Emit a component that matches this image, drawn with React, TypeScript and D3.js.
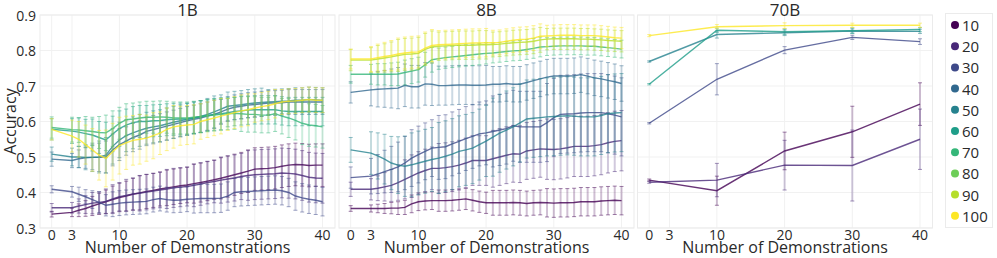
import React, { useRef, useEffect } from 'react'
import * as d3 from 'd3'

// categories / ticks
const levels = [10, 20, 30, 40, 50, 60, 70, 80, 90, 100]
const xTicks = [0, 3, 10, 20, 30, 40]
const yTicks = [0.3, 0.4, 0.5, 0.6, 0.7, 0.8, 0.9]
const shots = [0, 3, 4, 5, 6, 7, 8, 9, 10, 11, 12, 13, 14, 15, 16, 17, 18, 19, 20, 21, 22, 23, 24, 25, 26, 27, 28, 29, 30, 31, 32, 33, 34, 35, 36, 37, 38, 39, 40]
const shots70B = [0, 10, 20, 30, 40]

// ---- 1B ----
const acc1B_10 = [0.339, 0.344, 0.35, 0.355, 0.362, 0.368, 0.374, 0.38, 0.386, 0.39, 0.395, 0.399, 0.403, 0.406, 0.41, 0.413, 0.416, 0.419, 0.421, 0.425, 0.428, 0.432, 0.436, 0.44, 0.445, 0.45, 0.455, 0.46, 0.466, 0.467, 0.468, 0.47, 0.474, 0.477, 0.479, 0.478, 0.476, 0.477, 0.477]
const err1B_10 = [0.008, 0.012, 0.018, 0.022, 0.027, 0.03, 0.033, 0.038, 0.04, 0.042, 0.045, 0.048, 0.048, 0.048, 0.048, 0.05, 0.05, 0.05, 0.05, 0.055, 0.055, 0.055, 0.055, 0.058, 0.058, 0.058, 0.058, 0.06, 0.06, 0.06, 0.06, 0.06, 0.06, 0.06, 0.06, 0.06, 0.06, 0.06, 0.06]
const acc1B_20 = [0.357, 0.357, 0.362, 0.366, 0.37, 0.372, 0.375, 0.382, 0.388, 0.392, 0.396, 0.398, 0.401, 0.404, 0.407, 0.41, 0.413, 0.415, 0.417, 0.42, 0.424, 0.428, 0.431, 0.435, 0.438, 0.441, 0.445, 0.448, 0.45, 0.451, 0.452, 0.453, 0.455, 0.454, 0.452, 0.448, 0.443, 0.441, 0.44]
const err1B_20 = [0.012, 0.015, 0.02, 0.025, 0.03, 0.03, 0.035, 0.04, 0.04, 0.045, 0.045, 0.05, 0.05, 0.05, 0.05, 0.055, 0.055, 0.055, 0.055, 0.06, 0.06, 0.06, 0.06, 0.065, 0.065, 0.065, 0.065, 0.07, 0.07, 0.07, 0.07, 0.07, 0.07, 0.07, 0.07, 0.07, 0.07, 0.07, 0.07]
const acc1B_30 = [0.409, 0.402, 0.395, 0.388, 0.38, 0.372, 0.364, 0.367, 0.37, 0.372, 0.373, 0.374, 0.375, 0.38, 0.383, 0.38, 0.378, 0.379, 0.381, 0.382, 0.383, 0.383, 0.383, 0.384, 0.39, 0.4, 0.402, 0.403, 0.404, 0.405, 0.406, 0.407, 0.405, 0.4, 0.39, 0.385, 0.381, 0.378, 0.374]
const err1B_30 = [0.01, 0.015, 0.02, 0.02, 0.025, 0.03, 0.03, 0.035, 0.035, 0.035, 0.035, 0.035, 0.035, 0.035, 0.035, 0.035, 0.035, 0.035, 0.035, 0.04, 0.04, 0.04, 0.04, 0.04, 0.04, 0.04, 0.04, 0.04, 0.04, 0.04, 0.04, 0.04, 0.04, 0.04, 0.04, 0.04, 0.04, 0.04, 0.04]
const acc1B_40 = [0.494, 0.49, 0.495, 0.498, 0.499, 0.499, 0.5, 0.52, 0.535, 0.545, 0.555, 0.562, 0.572, 0.577, 0.582, 0.587, 0.592, 0.597, 0.602, 0.606, 0.61, 0.615, 0.62, 0.627, 0.635, 0.64, 0.643, 0.646, 0.648, 0.65, 0.652, 0.652, 0.653, 0.655, 0.655, 0.655, 0.655, 0.655, 0.655]
const err1B_40 = [0.02, 0.02, 0.025, 0.03, 0.035, 0.04, 0.045, 0.045, 0.045, 0.04, 0.04, 0.04, 0.04, 0.04, 0.04, 0.04, 0.04, 0.04, 0.04, 0.04, 0.04, 0.04, 0.04, 0.035, 0.035, 0.035, 0.035, 0.035, 0.035, 0.035, 0.035, 0.035, 0.035, 0.035, 0.035, 0.035, 0.035, 0.035, 0.035]
const acc1B_50 = [0.508, 0.5, 0.5, 0.499, 0.499, 0.5, 0.505, 0.53, 0.548, 0.56, 0.568, 0.575, 0.581, 0.585, 0.588, 0.593, 0.598, 0.602, 0.606, 0.61, 0.614, 0.62, 0.627, 0.635, 0.643, 0.645, 0.647, 0.65, 0.652, 0.654, 0.655, 0.656, 0.657, 0.658, 0.66, 0.66, 0.662, 0.661, 0.66]
const err1B_50 = [0.02, 0.025, 0.03, 0.035, 0.04, 0.045, 0.05, 0.05, 0.05, 0.045, 0.045, 0.045, 0.045, 0.045, 0.045, 0.045, 0.045, 0.045, 0.045, 0.045, 0.045, 0.045, 0.045, 0.04, 0.04, 0.04, 0.04, 0.04, 0.04, 0.04, 0.035, 0.035, 0.035, 0.035, 0.035, 0.035, 0.035, 0.035, 0.035]
const acc1B_60 = [0.578, 0.573, 0.57, 0.566, 0.562, 0.555, 0.548, 0.565, 0.58, 0.59, 0.597, 0.6, 0.6, 0.602, 0.603, 0.605, 0.606, 0.607, 0.607, 0.61, 0.613, 0.617, 0.62, 0.622, 0.625, 0.628, 0.63, 0.632, 0.633, 0.633, 0.633, 0.633, 0.63, 0.628, 0.628, 0.628, 0.628, 0.628, 0.628]
const err1B_60 = [0.03, 0.035, 0.04, 0.04, 0.045, 0.045, 0.05, 0.05, 0.05, 0.045, 0.045, 0.045, 0.045, 0.045, 0.045, 0.045, 0.045, 0.045, 0.045, 0.045, 0.045, 0.045, 0.045, 0.045, 0.04, 0.04, 0.04, 0.04, 0.04, 0.04, 0.04, 0.04, 0.04, 0.04, 0.04, 0.04, 0.04, 0.04, 0.04]
const acc1B_70 = [0.583, 0.577, 0.576, 0.574, 0.572, 0.569, 0.568, 0.58, 0.595, 0.605, 0.607, 0.61, 0.612, 0.612, 0.613, 0.612, 0.61, 0.61, 0.61, 0.612, 0.614, 0.616, 0.618, 0.62, 0.622, 0.623, 0.622, 0.62, 0.62, 0.618, 0.618, 0.622, 0.615, 0.61, 0.603, 0.595, 0.59, 0.588, 0.585]
const err1B_70 = [0.03, 0.035, 0.035, 0.04, 0.04, 0.045, 0.05, 0.05, 0.045, 0.045, 0.045, 0.045, 0.045, 0.045, 0.045, 0.045, 0.045, 0.045, 0.045, 0.045, 0.045, 0.045, 0.045, 0.045, 0.045, 0.045, 0.05, 0.05, 0.05, 0.05, 0.05, 0.05, 0.05, 0.055, 0.055, 0.06, 0.06, 0.06, 0.06]
const acc1B_100 = [0.578, 0.559, 0.55, 0.535, 0.52, 0.505, 0.496, 0.515, 0.532, 0.54, 0.547, 0.55, 0.553, 0.56, 0.567, 0.578, 0.585, 0.588, 0.59, 0.592, 0.6, 0.605, 0.61, 0.615, 0.62, 0.625, 0.63, 0.633, 0.638, 0.642, 0.645, 0.65, 0.655, 0.657, 0.658, 0.66, 0.662, 0.66, 0.66]
const err1B_100 = [0.03, 0.045, 0.05, 0.055, 0.06, 0.07, 0.08, 0.08, 0.08, 0.075, 0.07, 0.07, 0.065, 0.065, 0.06, 0.06, 0.06, 0.055, 0.055, 0.055, 0.05, 0.05, 0.05, 0.05, 0.045, 0.045, 0.045, 0.045, 0.04, 0.04, 0.04, 0.04, 0.035, 0.035, 0.035, 0.035, 0.035, 0.035, 0.035]

// ---- 8B ----
const acc8B_10 = [0.355, 0.355, 0.355, 0.355, 0.356, 0.356, 0.358, 0.368, 0.374, 0.376, 0.377, 0.377, 0.377, 0.378, 0.38, 0.382, 0.378, 0.374, 0.371, 0.371, 0.371, 0.371, 0.372, 0.371, 0.369, 0.371, 0.372, 0.371, 0.37, 0.371, 0.371, 0.372, 0.374, 0.374, 0.374, 0.376, 0.377, 0.378, 0.377]
const err8B_10 = [0.008, 0.01, 0.012, 0.014, 0.016, 0.018, 0.02, 0.025, 0.025, 0.025, 0.025, 0.03, 0.03, 0.03, 0.03, 0.03, 0.03, 0.03, 0.03, 0.035, 0.035, 0.035, 0.035, 0.035, 0.035, 0.035, 0.035, 0.04, 0.04, 0.04, 0.04, 0.04, 0.04, 0.04, 0.04, 0.04, 0.04, 0.04, 0.04]
const acc8B_20 = [0.409, 0.409, 0.412, 0.416, 0.42, 0.428, 0.437, 0.446, 0.455, 0.462, 0.468, 0.468, 0.47, 0.473, 0.477, 0.483, 0.49, 0.49, 0.49, 0.495, 0.5, 0.505, 0.509, 0.508, 0.517, 0.52, 0.523, 0.522, 0.521, 0.523, 0.526, 0.53, 0.53, 0.53, 0.532, 0.535, 0.54, 0.544, 0.546]
const err8B_20 = [0.02, 0.03, 0.035, 0.04, 0.045, 0.05, 0.055, 0.06, 0.06, 0.06, 0.06, 0.07, 0.07, 0.07, 0.07, 0.07, 0.07, 0.07, 0.07, 0.08, 0.08, 0.08, 0.08, 0.08, 0.08, 0.08, 0.08, 0.085, 0.085, 0.085, 0.085, 0.085, 0.085, 0.085, 0.085, 0.085, 0.085, 0.085, 0.085]
const acc8B_30 = [0.442, 0.446, 0.452, 0.459, 0.465, 0.472, 0.483, 0.497, 0.507, 0.516, 0.525, 0.527, 0.529, 0.537, 0.544, 0.552, 0.558, 0.565, 0.568, 0.572, 0.576, 0.58, 0.588, 0.585, 0.585, 0.585, 0.585, 0.597, 0.611, 0.62, 0.621, 0.622, 0.624, 0.625, 0.625, 0.625, 0.622, 0.618, 0.613]
const err8B_30 = [0.03, 0.05, 0.055, 0.06, 0.065, 0.07, 0.075, 0.08, 0.08, 0.08, 0.08, 0.09, 0.09, 0.09, 0.09, 0.09, 0.09, 0.09, 0.09, 0.1, 0.1, 0.1, 0.1, 0.1, 0.1, 0.1, 0.1, 0.11, 0.11, 0.11, 0.11, 0.11, 0.11, 0.11, 0.11, 0.11, 0.11, 0.11, 0.11]
const acc8B_40 = [0.682, 0.689, 0.691, 0.692, 0.693, 0.694, 0.702, 0.698, 0.698, 0.706, 0.705, 0.701, 0.701, 0.702, 0.703, 0.703, 0.702, 0.702, 0.703, 0.705, 0.705, 0.707, 0.705, 0.705, 0.71, 0.715, 0.72, 0.725, 0.728, 0.728, 0.728, 0.729, 0.732, 0.728, 0.723, 0.72, 0.716, 0.712, 0.707]
const err8B_40 = [0.03, 0.045, 0.05, 0.052, 0.055, 0.058, 0.06, 0.06, 0.06, 0.06, 0.06, 0.055, 0.055, 0.055, 0.055, 0.055, 0.055, 0.055, 0.055, 0.05, 0.05, 0.05, 0.05, 0.05, 0.05, 0.05, 0.05, 0.05, 0.05, 0.05, 0.05, 0.05, 0.05, 0.05, 0.05, 0.05, 0.05, 0.05, 0.05]
const acc8B_50 = [0.52, 0.511, 0.503, 0.494, 0.483, 0.477, 0.474, 0.478, 0.483, 0.488, 0.493, 0.497, 0.502, 0.508, 0.516, 0.52, 0.525, 0.535, 0.545, 0.556, 0.567, 0.576, 0.585, 0.596, 0.607, 0.609, 0.611, 0.613, 0.614, 0.615, 0.616, 0.615, 0.613, 0.613, 0.613, 0.617, 0.622, 0.624, 0.625]
const err8B_50 = [0.035, 0.06, 0.065, 0.07, 0.075, 0.08, 0.085, 0.09, 0.09, 0.09, 0.09, 0.1, 0.1, 0.1, 0.1, 0.1, 0.1, 0.1, 0.1, 0.11, 0.11, 0.11, 0.11, 0.11, 0.11, 0.11, 0.11, 0.11, 0.11, 0.11, 0.11, 0.11, 0.11, 0.11, 0.11, 0.11, 0.11, 0.11, 0.11]
const acc8B_70 = [0.733, 0.733, 0.733, 0.733, 0.733, 0.734, 0.738, 0.742, 0.746, 0.76, 0.774, 0.777, 0.78, 0.782, 0.784, 0.786, 0.788, 0.79, 0.792, 0.793, 0.795, 0.797, 0.799, 0.8, 0.803, 0.806, 0.81, 0.811, 0.812, 0.813, 0.813, 0.813, 0.813, 0.812, 0.812, 0.81, 0.808, 0.806, 0.804]
const err8B_70 = [0.025, 0.028, 0.03, 0.03, 0.032, 0.033, 0.035, 0.035, 0.035, 0.035, 0.035, 0.03, 0.03, 0.03, 0.03, 0.03, 0.03, 0.03, 0.03, 0.028, 0.028, 0.028, 0.028, 0.028, 0.028, 0.028, 0.028, 0.025, 0.025, 0.025, 0.025, 0.025, 0.025, 0.025, 0.025, 0.025, 0.025, 0.025, 0.025]
const acc8B_90 = [0.773, 0.773, 0.776, 0.779, 0.782, 0.786, 0.789, 0.79, 0.792, 0.803, 0.81, 0.812, 0.813, 0.814, 0.815, 0.815, 0.815, 0.816, 0.816, 0.817, 0.818, 0.82, 0.822, 0.823, 0.824, 0.826, 0.83, 0.832, 0.833, 0.833, 0.833, 0.833, 0.832, 0.832, 0.831, 0.83, 0.828, 0.827, 0.826]
const err8B_90 = [0.03, 0.035, 0.038, 0.04, 0.042, 0.045, 0.045, 0.045, 0.045, 0.045, 0.045, 0.04, 0.04, 0.04, 0.04, 0.04, 0.04, 0.04, 0.04, 0.035, 0.035, 0.035, 0.035, 0.035, 0.035, 0.035, 0.035, 0.03, 0.03, 0.03, 0.03, 0.03, 0.03, 0.03, 0.03, 0.03, 0.03, 0.03, 0.03]
const acc8B_100 = [0.776, 0.776, 0.78, 0.783, 0.786, 0.79, 0.793, 0.795, 0.796, 0.807, 0.814, 0.816, 0.817, 0.818, 0.819, 0.82, 0.821, 0.821, 0.822, 0.822, 0.823, 0.826, 0.829, 0.831, 0.832, 0.835, 0.84, 0.841, 0.842, 0.843, 0.843, 0.843, 0.842, 0.842, 0.842, 0.84, 0.838, 0.836, 0.835]
const err8B_100 = [0.028, 0.035, 0.038, 0.04, 0.042, 0.045, 0.045, 0.045, 0.045, 0.045, 0.045, 0.04, 0.04, 0.04, 0.04, 0.04, 0.04, 0.04, 0.04, 0.035, 0.035, 0.035, 0.035, 0.035, 0.035, 0.035, 0.035, 0.03, 0.03, 0.03, 0.03, 0.03, 0.03, 0.03, 0.03, 0.03, 0.03, 0.03, 0.03]

// ---- 70B ----
const acc70B_10 = [0.435, 0.405, 0.517, 0.571, 0.649]
const err70B_10 = [0.003, 0.041, 0.053, 0.072, 0.06]
const acc70B_20 = [0.429, 0.435, 0.477, 0.476, 0.55]
const err70B_20 = [0.003, 0.047, 0.07, 0.1, 0.085]
const acc70B_30 = [0.595, 0.719, 0.801, 0.837, 0.825]
const err70B_30 = [0.002, 0.044, 0.01, 0.006, 0.008]
const acc70B_50 = [0.769, 0.845, 0.85, 0.855, 0.854]
const err70B_50 = [0.002, 0.01, 0.008, 0.006, 0.006]
const acc70B_60 = [0.705, 0.857, 0.853, 0.856, 0.859]
const err70B_60 = [0.002, 0.006, 0.008, 0.008, 0.006]
const acc70B_100 = [0.842, 0.867, 0.87, 0.871, 0.871]
const err70B_100 = [0.003, 0.006, 0.008, 0.006, 0.006]

const panels = [
  { title: '1B', xs: shots, series: [
    { level: 10, acc: acc1B_10, err: err1B_10 },
    { level: 20, acc: acc1B_20, err: err1B_20 },
    { level: 30, acc: acc1B_30, err: err1B_30 },
    { level: 40, acc: acc1B_40, err: err1B_40 },
    { level: 50, acc: acc1B_50, err: err1B_50 },
    { level: 60, acc: acc1B_60, err: err1B_60 },
    { level: 70, acc: acc1B_70, err: err1B_70 },
    { level: 100, acc: acc1B_100, err: err1B_100 },
  ] },
  { title: '8B', xs: shots, series: [
    { level: 10, acc: acc8B_10, err: err8B_10 },
    { level: 20, acc: acc8B_20, err: err8B_20 },
    { level: 30, acc: acc8B_30, err: err8B_30 },
    { level: 40, acc: acc8B_40, err: err8B_40 },
    { level: 50, acc: acc8B_50, err: err8B_50 },
    { level: 70, acc: acc8B_70, err: err8B_70 },
    { level: 90, acc: acc8B_90, err: err8B_90 },
    { level: 100, acc: acc8B_100, err: err8B_100 },
  ] },
  { title: '70B', xs: shots70B, series: [
    { level: 10, acc: acc70B_10, err: err70B_10 },
    { level: 20, acc: acc70B_20, err: err70B_20 },
    { level: 30, acc: acc70B_30, err: err70B_30 },
    { level: 50, acc: acc70B_50, err: err70B_50 },
    { level: 60, acc: acc70B_60, err: err70B_60 },
    { level: 100, acc: acc70B_100, err: err70B_100 },
  ] },
]

const W = 997
const H = 258
const FONT = "'Open Sans', sans-serif"
const TXT = '#2a2a2a'
const panelLeft = [40, 339, 637.5]
const panelW = 295
const top = 15
const bottom = 228

const color = (lv: number) => d3.interpolateViridis((lv - 10) / 90)

const App = () => {
  const svgRef = useRef<SVGSVGElement>(null)

  useEffect(() => {
    const svg = d3.select(svgRef.current)
    svg.selectAll('*').remove()

    const y = d3.scaleLinear().domain([0.3, 0.9]).range([bottom, top])

    panels.forEach((p, pi) => {
      const left = panelLeft[pi]
      const x = d3.scaleLinear().domain([0, 40]).range([left + 11.7, left + 282.5])
      const g = svg.append('g')

      // grid + frame
      g.selectAll('line.gy').data(yTicks).enter().append('line')
        .attr('x1', left).attr('x2', left + panelW)
        .attr('y1', d => y(d)).attr('y2', d => y(d))
        .attr('stroke', '#f1f1f1').attr('stroke-width', 1)
      g.selectAll('line.gx').data(xTicks).enter().append('line')
        .attr('x1', d => x(d)).attr('x2', d => x(d))
        .attr('y1', top).attr('y2', bottom)
        .attr('stroke', '#f1f1f1').attr('stroke-width', 1)
      g.append('rect')
        .attr('x', left).attr('y', top).attr('width', panelW).attr('height', bottom - top)
        .attr('fill', 'none').attr('stroke', '#ebebeb').attr('stroke-width', 1)

      // tick labels
      g.selectAll('text.xt').data(xTicks).enter().append('text')
        .attr('x', d => x(d)).attr('y', 239.5)
        .attr('text-anchor', 'middle')
        .attr('font-family', FONT).attr('font-size', 14).attr('fill', TXT)
        .text(d => d)
      if (pi === 0) {
        g.selectAll('text.yt').data(yTicks).enter().append('text')
          .attr('x', 36).attr('y', d => y(d))
          .attr('text-anchor', 'end').attr('dominant-baseline', 'central')
          .attr('font-family', FONT).attr('font-size', 14).attr('fill', TXT)
          .text(d => d.toFixed(1))
        g.append('text')
          .attr('transform', `translate(9.5,${(top + bottom) / 2}) rotate(-90)`)
          .attr('text-anchor', 'middle').attr('dominant-baseline', 'central')
          .attr('font-family', FONT).attr('font-size', 16).attr('fill', TXT)
          .text('Accuracy')
      }
      g.append('text')
        .attr('x', left + panelW / 2).attr('y', 253)
        .attr('text-anchor', 'middle')
        .attr('font-family', FONT).attr('font-size', 16).attr('fill', TXT)
        .text('Number of Demonstrations')
      g.append('text')
        .attr('x', left + panelW / 2).attr('y', 15.5)
        .attr('text-anchor', 'middle')
        .attr('font-family', FONT).attr('font-size', 17).attr('fill', TXT)
        .text(p.title)

      // series: error bars then line
      const line = d3.line<number>()
        .x((d, i) => x(p.xs[i]))
        .y(d => y(d))

      p.series.forEach(s => {
        const c = color(s.level)
        const sg = g.append('g')
        const pts = s.acc.map((v, i) => ({ x: p.xs[i], v, e: s.err[i] }))
        sg.selectAll('line.bar').data(pts).enter().append('line')
          .attr('x1', d => x(d.x)).attr('x2', d => x(d.x))
          .attr('y1', d => y(d.v - d.e)).attr('y2', d => y(d.v + d.e))
          .attr('stroke', c).attr('stroke-opacity', 0.25).attr('stroke-width', 2)
        sg.selectAll('line.capt').data(pts).enter().append('line')
          .attr('x1', d => x(d.x) - 2).attr('x2', d => x(d.x) + 2)
          .attr('y1', d => y(d.v + d.e)).attr('y2', d => y(d.v + d.e))
          .attr('stroke', c).attr('stroke-opacity', 0.5).attr('stroke-width', 1)
        sg.selectAll('line.capb').data(pts).enter().append('line')
          .attr('x1', d => x(d.x) - 2).attr('x2', d => x(d.x) + 2)
          .attr('y1', d => y(d.v - d.e)).attr('y2', d => y(d.v - d.e))
          .attr('stroke', c).attr('stroke-opacity', 0.5).attr('stroke-width', 1)
        sg.append('path')
          .attr('d', line(s.acc))
          .attr('fill', 'none').attr('stroke', c)
          .attr('stroke-opacity', 0.8).attr('stroke-width', 1.4)
      })
    })

    // legend
    const lg = svg.append('g')
    lg.append('rect')
      .attr('x', 945.5).attr('y', 13.5).attr('width', 47).attr('height', 214)
      .attr('fill', '#fff').attr('stroke', '#ebebeb')
    const item = lg.selectAll('g.item').data(levels).enter().append('g')
      .attr('transform', (d, i) => `translate(0,${25 + i * 21.2})`)
    item.append('circle').attr('cx', 955).attr('cy', 0).attr('r', 4)
      .attr('fill', d => color(d))
    item.append('text').attr('x', 962).attr('y', 0)
      .attr('dominant-baseline', 'central')
      .attr('font-family', FONT).attr('font-size', 15).attr('fill', TXT)
      .text(d => d)
  }, [])

  return (
    <svg ref={svgRef} width={W} height={H}
      style={{ position: 'absolute', left: 0, top: 0, background: '#fff' }} />
  )
}

export default App
